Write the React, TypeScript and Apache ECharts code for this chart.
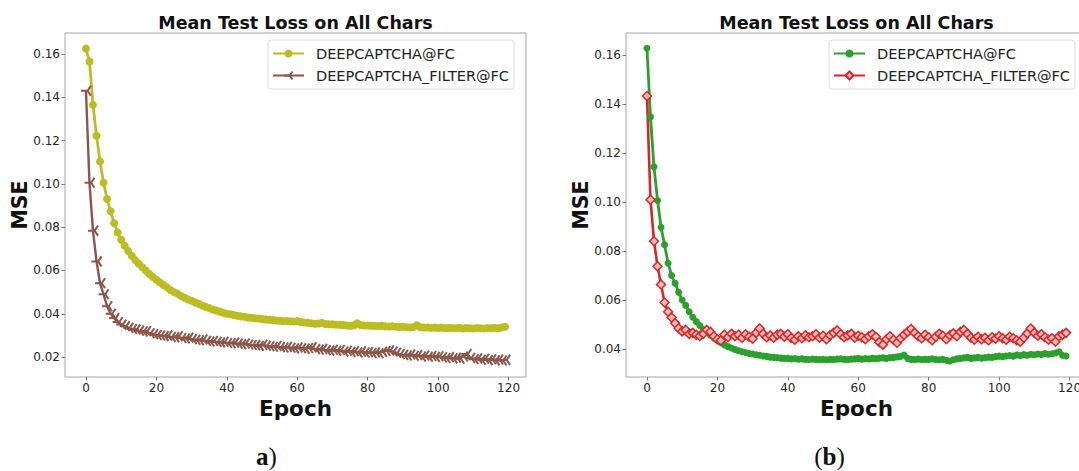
import React, { useEffect, useRef } from "react";
import * as echarts from "echarts";

// ---------- data ----------
const xTicks = [0, 20, 40, 60, 80, 100, 120];
const yTicksA = [0.02, 0.04, 0.06, 0.08, 0.1, 0.12, 0.14, 0.16];
const yTicksB = [0.04, 0.06, 0.08, 0.1, 0.12, 0.14, 0.16];
const titleText = "Mean Test Loss on All Chars";
const nameA = "DEEPCAPTCHA@FC";
const nameB = "DEEPCAPTCHA_FILTER@FC";

// (a) DEEPCAPTCHA@FC, epochs 0..119
const leftBase = [
  0.1625, 0.1565, 0.1365, 0.1222, 0.1104, 0.1005, 0.093, 0.0874, 0.0818, 0.0776,
  0.0742, 0.0714, 0.069, 0.0668, 0.0648, 0.0631, 0.0615, 0.06, 0.0584, 0.057,
  0.0557, 0.0545, 0.0533, 0.0522, 0.051, 0.05, 0.0493, 0.0482, 0.0474, 0.0466,
  0.046, 0.0452, 0.0446, 0.0438, 0.0432, 0.0426, 0.042, 0.0415, 0.041, 0.0405,
  0.04, 0.0398, 0.0394, 0.0391, 0.0388, 0.0386, 0.0383, 0.0381, 0.0379, 0.0378,
  0.0376, 0.0374, 0.0372, 0.0371, 0.0369, 0.0368, 0.0367, 0.0366, 0.0365, 0.0364,
  0.0366, 0.0362, 0.036, 0.0358, 0.0356, 0.0354, 0.0355, 0.0358, 0.0353, 0.0352,
  0.0351, 0.035, 0.0349, 0.0348, 0.0346, 0.0344, 0.0346, 0.0356, 0.0348, 0.0346,
  0.0346, 0.0345, 0.0344, 0.0343, 0.0344, 0.0342, 0.0341, 0.0342, 0.034, 0.0339,
  0.034, 0.0338, 0.0337, 0.0339, 0.0347, 0.0338, 0.0336, 0.0337, 0.0335, 0.0336,
  0.0334, 0.0336, 0.0333, 0.0335, 0.0334, 0.0333, 0.0335, 0.0332, 0.0334, 0.0333,
  0.0332, 0.0334, 0.0333, 0.0332, 0.0334, 0.0333, 0.0335, 0.0333, 0.0336, 0.034,
];
// (a) DEEPCAPTCHA_FILTER@FC
const leftFilter = [
  0.143, 0.1005, 0.0784, 0.0642, 0.0541, 0.049, 0.0435, 0.04, 0.038, 0.0362,
  0.035, 0.0343, 0.0335, 0.033, 0.0328, 0.0322, 0.0318, 0.032, 0.031, 0.0306,
  0.0302, 0.03, 0.0297, 0.0299, 0.0293, 0.0292, 0.0296, 0.0288, 0.0286, 0.029,
  0.0283, 0.028, 0.0278, 0.0281, 0.0275, 0.0272, 0.0274, 0.027, 0.0268, 0.0271,
  0.0265, 0.0264, 0.0267, 0.0262, 0.026, 0.0263, 0.0258, 0.0256, 0.0255, 0.0252,
  0.0257, 0.0253, 0.025, 0.0248, 0.0251, 0.0246, 0.0244, 0.0247, 0.0243, 0.024,
  0.0244, 0.0241, 0.0239, 0.0242, 0.0245, 0.0237, 0.0235, 0.0238, 0.0232, 0.023,
  0.0234, 0.0229, 0.0233, 0.0226, 0.0229, 0.0224, 0.0227, 0.0222, 0.0225, 0.0221,
  0.0223, 0.0219, 0.0222, 0.0218, 0.0224, 0.0228, 0.0231, 0.0226, 0.022, 0.0214,
  0.021, 0.0207, 0.0212, 0.0206, 0.0209, 0.0203, 0.0207, 0.0202, 0.0205, 0.0201,
  0.0204, 0.0199, 0.0196, 0.02, 0.0194, 0.0197, 0.0192, 0.0203, 0.0214, 0.0196,
  0.019, 0.0194, 0.0188, 0.0192, 0.0186, 0.019, 0.0185, 0.0189, 0.0184, 0.0187,
];
// (b) DEEPCAPTCHA@FC
const rightBase = [
  0.1627, 0.1347, 0.1143, 0.1006, 0.0897, 0.0825, 0.075, 0.07, 0.0668, 0.0632,
  0.06, 0.0578, 0.0552, 0.053, 0.0512, 0.0496, 0.048, 0.0468, 0.0456, 0.0445,
  0.0435, 0.0426, 0.0417, 0.041, 0.0404, 0.0398, 0.0393, 0.0389, 0.0386, 0.0382,
  0.038, 0.0377, 0.0375, 0.0372, 0.037, 0.0367, 0.0366, 0.0365, 0.0363, 0.0362,
  0.0362, 0.036, 0.0361, 0.0359, 0.036, 0.0358, 0.0357, 0.0359, 0.0358, 0.0357,
  0.0358, 0.0356, 0.0358, 0.0357, 0.0359, 0.036, 0.0358, 0.0357, 0.0359, 0.036,
  0.0362, 0.0359, 0.0361, 0.036, 0.0362, 0.0361, 0.0363, 0.0364, 0.0362, 0.0365,
  0.0366, 0.0368, 0.037, 0.0376, 0.0362, 0.0358, 0.0357, 0.0359, 0.0357, 0.0358,
  0.0358, 0.036, 0.0357, 0.0356, 0.0358, 0.0354, 0.0351, 0.0356, 0.036, 0.0362,
  0.0364, 0.0366, 0.0362, 0.0364, 0.0366, 0.0363, 0.0365, 0.0367, 0.0366, 0.0369,
  0.0371, 0.0369, 0.0372, 0.0374, 0.0371, 0.0376, 0.0374, 0.0378, 0.0375, 0.0379,
  0.0377, 0.038, 0.0378, 0.0382, 0.0379, 0.0381, 0.0384, 0.0389, 0.0375, 0.0372,
];
// (b) DEEPCAPTCHA_FILTER@FC
const rightFilter = [
  0.1432, 0.1009, 0.084, 0.0738, 0.0663, 0.059, 0.0552, 0.0529, 0.0505, 0.0485,
  0.0472, 0.0478, 0.0462, 0.0466, 0.0458, 0.0453, 0.0462, 0.0478, 0.047, 0.0452,
  0.044, 0.0435, 0.0458, 0.0448, 0.0462, 0.0452, 0.0458, 0.0446, 0.046, 0.045,
  0.0442, 0.0466, 0.0484, 0.0462, 0.0448, 0.0455, 0.0446, 0.0458, 0.0462, 0.045,
  0.046, 0.0445, 0.0438, 0.0452, 0.0444, 0.0456, 0.0448, 0.0452, 0.046, 0.0446,
  0.0454, 0.044, 0.0456, 0.0466, 0.0476, 0.046, 0.0448, 0.0456, 0.0462, 0.0446,
  0.0454, 0.0448, 0.044, 0.0452, 0.046, 0.045, 0.0428, 0.0418, 0.044, 0.0452,
  0.0438, 0.0426, 0.0444, 0.0458, 0.047, 0.0482, 0.0466, 0.0452, 0.0444, 0.0458,
  0.0448, 0.0436, 0.045, 0.0462, 0.0454, 0.044, 0.0456, 0.0464, 0.0452, 0.047,
  0.0478, 0.0462, 0.0446, 0.0438, 0.045, 0.044, 0.0446, 0.0436, 0.0448, 0.0442,
  0.0452, 0.0444, 0.0438, 0.045, 0.0444, 0.0436, 0.043, 0.0446, 0.0464, 0.0484,
  0.0466, 0.0454, 0.046, 0.0448, 0.0438, 0.0444, 0.043, 0.0452, 0.0458, 0.0466,
];

// ---------- styling ----------
const SANS = '"DejaVu Sans", sans-serif';
const SERIF = '"Liberation Serif", serif';
const FRAME = "#a6a6a6";
const TRI = "path://M10,10 L0,10 M10,10 L15,1.34 M10,10 L15,18.66";

const toPairs = (arr: number[]) => arr.map((v, i) => [i, v]);

function buildOption(
  gridLeft: number,
  yMin: number,
  yMax: number,
  yTicks: number[],
  legendLeft: number,
  series: any[],
  caption: any
) {
  const gridTop = 33;
  const gridW = 461;
  const gridH = 344;
  const cx = gridLeft + gridW / 2;
  return {
    animation: false,
    backgroundColor: "#ffffff",
    grid: {
      left: gridLeft,
      top: gridTop,
      width: gridW,
      height: gridH,
      show: true,
      borderColor: FRAME,
      borderWidth: 1,
      backgroundColor: "transparent",
    },
    legend: {
      orient: "vertical",
      left: legendLeft,
      top: 40,
      itemWidth: 31,
      itemHeight: 10,
      itemGap: 7,
      padding: [6, 5, 6, 4],
      borderColor: "#dcdcdc",
      borderWidth: 1,
      borderRadius: 3,
      backgroundColor: "rgba(255,255,255,0.85)",
      selectedMode: false,
      textStyle: {
        fontFamily: SANS,
        fontSize: 14.5,
        color: "#222",
        padding: [0, 0, 0, 7],
      },
      data: series.map((s) => s.name),
    },
    xAxis: {
      type: "value",
      min: -5.95,
      max: 124.95,
      axisLine: { show: false, onZero: false },
      axisTick: {
        show: true,
        length: 3.5,
        lineStyle: { color: "#777" },
        customValues: xTicks,
      },
      axisLabel: {
        customValues: xTicks,
        fontFamily: SANS,
        fontSize: 12,
        color: "#262626",
        margin: 5,
      },
      splitLine: { show: false },
      minorSplitLine: { show: false },
    },
    yAxis: {
      type: "value",
      min: yMin,
      max: yMax,
      axisLine: { show: false, onZero: false },
      axisTick: {
        show: true,
        length: 3.5,
        lineStyle: { color: "#777" },
        customValues: yTicks,
      },
      axisLabel: {
        customValues: yTicks,
        fontFamily: SANS,
        fontSize: 12,
        color: "#262626",
        margin: 5,
        formatter: (v: number) => v.toFixed(2),
      },
      splitLine: { show: false },
      minorSplitLine: { show: false },
    },
    series,
    graphic: [
      {
        type: "text",
        x: cx,
        y: 23,
        style: {
          text: titleText,
          fontFamily: SANS,
          fontWeight: "bold",
          fontSize: 17.5,
          fill: "#111",
          align: "center",
          verticalAlign: "middle",
          textAlign: "center",
          textVerticalAlign: "middle",
        },
      },
      {
        type: "text",
        x: cx,
        y: 408,
        style: {
          text: "Epoch",
          fontFamily: SANS,
          fontWeight: "bold",
          fontSize: 21.5,
          fill: "#111",
          align: "center",
          verticalAlign: "middle",
          textAlign: "center",
          textVerticalAlign: "middle",
        },
      },
      {
        type: "text",
        x: gridLeft - 45,
        y: gridTop + gridH / 2,
        rotation: Math.PI / 2,
        style: {
          text: "MSE",
          fontFamily: SANS,
          fontWeight: "bold",
          fontSize: 20.5,
          fill: "#111",
          align: "center",
          verticalAlign: "middle",
          textAlign: "center",
          textVerticalAlign: "middle",
        },
      },
      caption,
    ],
  };
}

function makeLeftSeries() {
  return [
    {
      name: nameA,
      type: "line",
      data: toPairs(leftBase),
      symbol: "circle",
      symbolSize: 8,
      lineStyle: { color: "#bcbd22", width: 2.8 },
      itemStyle: { color: "#bcbd22" },
    },
    {
      name: nameB,
      type: "line",
      data: toPairs(leftFilter),
      symbol: TRI,
      symbolSize: 10,
      lineStyle: { color: "#8c564b", width: 2.4 },
      itemStyle: { color: "#8c564b", borderColor: "#8c564b", borderWidth: 2 },
    },
  ];
}

function makeRightSeries() {
  return [
    {
      name: nameA,
      type: "line",
      data: toPairs(rightBase),
      symbol: "circle",
      symbolSize: 7,
      lineStyle: { color: "#2ca02c", width: 2.8 },
      itemStyle: { color: "#2ca02c" },
    },
    {
      name: nameB,
      type: "line",
      data: toPairs(rightFilter),
      symbol: "diamond",
      symbolSize: 9,
      lineStyle: { color: "#d62728", width: 2.6 },
      itemStyle: { color: "#f4b8b8", borderColor: "#d62728", borderWidth: 1.5 },
    },
  ];
}

const captionText = (x: number, parts: string, align: string) => ({
  type: "text",
  x,
  y: 456,
  style: {
    text: parts,
    rich: {
      b: { fontFamily: SERIF, fontWeight: "bold", fontSize: 25, fill: "#111", color: "#111" },
      r: { fontFamily: SERIF, fontWeight: "normal", fontSize: 25, fill: "#111", color: "#111" },
    },
    fill: "#111",
    align,
    verticalAlign: "middle",
    textAlign: align,
    textVerticalAlign: "middle",
  },
});

export default function App() {
  const leftRef = useRef<HTMLDivElement>(null);
  const rightRef = useRef<HTMLDivElement>(null);

  useEffect(() => {
    if (!leftRef.current || !rightRef.current) return;
    const c1 = echarts.init(leftRef.current, undefined, { renderer: "svg" });
    const c2 = echarts.init(rightRef.current, undefined, { renderer: "svg" });
    c1.setOption(
      buildOption(65, 0.0108, 0.1697, yTicksA, 268, makeLeftSeries(), captionText(256, "{b|a}{r|)}", "left"))
    );
    c2.setOption(
      buildOption(86, 0.0286, 0.1689, yTicksB, 289, makeRightSeries(), captionText(289.5, "{r|(}{b|b}{r|)}", "center"))
    );
    return () => {
      c1.dispose();
      c2.dispose();
    };
  }, []);

  return (
    <div
      style={{
        position: "fixed",
        left: 0,
        top: 0,
        width: 1079,
        height: 471,
        overflow: "hidden",
        background: "#fff",
      }}
    >
      <div ref={leftRef} style={{ position: "absolute", left: 0, top: 0, width: 540, height: 471 }} />
      <div ref={rightRef} style={{ position: "absolute", left: 540, top: 0, width: 560, height: 471 }} />
    </div>
  );
}
